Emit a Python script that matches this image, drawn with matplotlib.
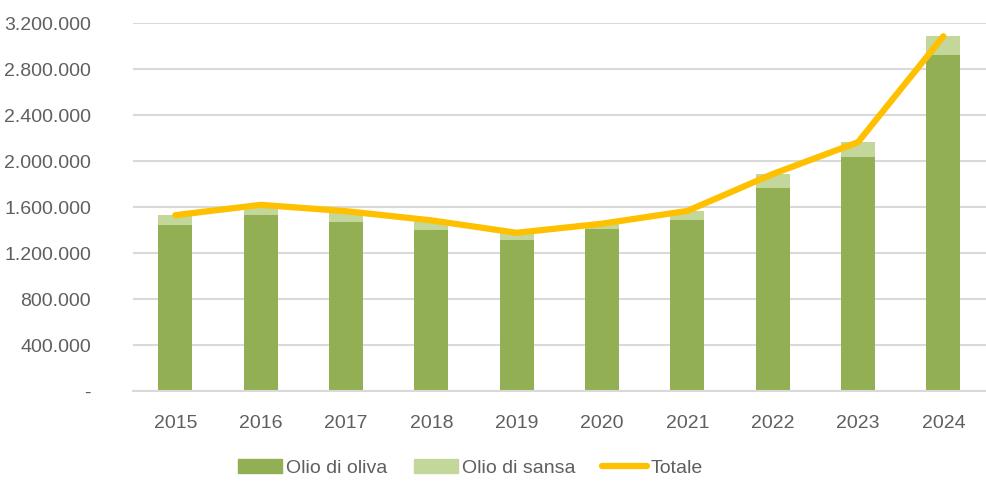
import matplotlib.pyplot as plt
from matplotlib.lines import Line2D
from matplotlib.patches import Patch
from matplotlib.ticker import FuncFormatter

plt.rcParams["font.family"] = ["Liberation Sans", "DejaVu Sans"]

YEARS = ["2015", "2016", "2017", "2018", "2019", "2020", "2021", "2022", "2023", "2024"]
OLIO_OLIVA = [1443000, 1530000, 1470000, 1400000, 1313000, 1411000, 1490000, 1768000, 2035000, 2922000]
OLIO_SANSA = [87000, 90000, 95000, 85000, 64000, 45000, 77000, 120000, 130000, 165000]
TOTALE = [1530000, 1620000, 1565000, 1485000, 1377000, 1456000, 1567000, 1888000, 2165000, 3087000]

C_OLIVA = "#92AF54"
C_SANSA = "#C4D79B"
C_TOT = "#FFC000"
TXT = "#5F5F5F"
GRID = "#D9D9D9"


def fmt(v, _):
    if v == 0:
        return "-"
    return f"{int(v):,}".replace(",", ".")


fig = plt.figure(figsize=(9.86, 4.9), dpi=100)
ax = fig.add_axes([0.1345, 0.202, 0.8655, 0.7505])

x = range(len(YEARS))
ax.bar(x, OLIO_OLIVA, width=0.4, color=C_OLIVA, zorder=2)
ax.bar(x, OLIO_SANSA, width=0.4, bottom=OLIO_OLIVA, color=C_SANSA, zorder=2)
ax.plot(x, TOTALE, color=C_TOT, linewidth=4.5, solid_capstyle="round",
        solid_joinstyle="round", zorder=3)

ax.set_xlim(-0.5, len(YEARS) - 0.5)
ax.set_ylim(0, 3200000)
ax.set_yticks(range(0, 3200001, 400000))
ax.yaxis.set_major_formatter(FuncFormatter(fmt))
ax.set_xticks(list(x))
ax.set_xticklabels(YEARS)

ax.grid(axis="y", color=GRID, linewidth=1.5, zorder=0)
for s in ["top", "right", "left"]:
    ax.spines[s].set_visible(False)
ax.spines["bottom"].set_color(GRID)
ax.spines["bottom"].set_linewidth(1.5)
ax.tick_params(axis="both", length=0, colors=TXT, labelsize=14)
ax.tick_params(axis="x", pad=17)
ax.tick_params(axis="y", pad=30)

handles = [
    Patch(color=C_OLIVA, label="Olio di oliva"),
    Patch(color=C_SANSA, label="Olio di sansa"),
    Line2D([0], [0], color=C_TOT, linewidth=4.5, solid_capstyle="round", label="Totale"),
]
fig.legend(handles=handles, loc="center", bbox_to_anchor=(0.477, 0.045), ncol=3,
           frameon=False, fontsize=14, labelcolor=TXT, handlelength=2.3,
           handleheight=0.75, handletextpad=0.2, columnspacing=1.35)

fig.savefig("out.png", dpi=100)
